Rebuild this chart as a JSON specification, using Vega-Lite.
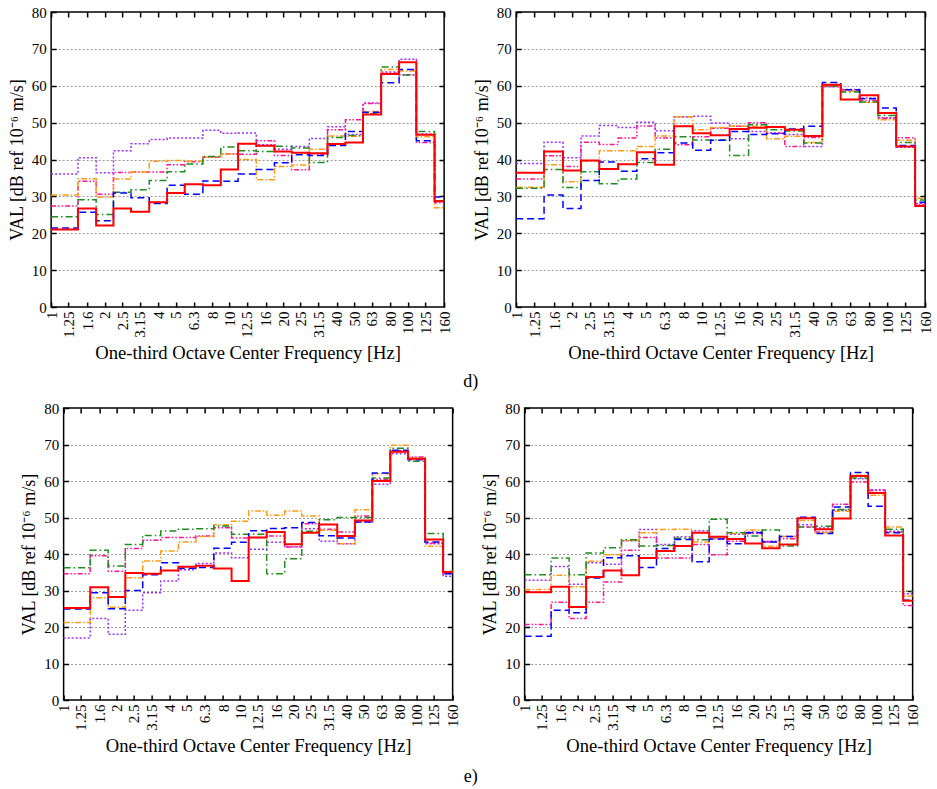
{
"$schema": "https://vega.github.io/schema/vega-lite/v6.json",
"background": "white",
"padding": {"left": 7, "top": 4, "right": 5, "bottom": 5},
"config": {
  "view": {"stroke": "black", "strokeWidth": 1.5},
  "font": "Liberation Serif",
  "title": {"font": "Liberation Serif", "fontSize": 18, "fontWeight": "normal", "color": "black"}
},
"datasets": {
 "vals": [
  {"p":"a","f":1,"s1":36.1,"s2":27.4,"s3":30.4,"s4":24.5,"s5":21.4,"s6":21.0},
  {"p":"a","f":1.25,"s1":36.1,"s2":27.4,"s3":30.4,"s4":24.5,"s5":21.4,"s6":21.0},
  {"p":"a","f":1.6,"s1":40.5,"s2":34.1,"s3":34.8,"s4":29.1,"s5":25.7,"s6":26.7},
  {"p":"a","f":2,"s1":36.4,"s2":30.6,"s3":29.8,"s4":25.1,"s5":23.4,"s6":22.1},
  {"p":"a","f":2.5,"s1":42.4,"s2":36.5,"s3":34.7,"s4":31.1,"s5":30.9,"s6":26.7},
  {"p":"a","f":3.15,"s1":44.3,"s2":36.6,"s3":36.6,"s4":31.8,"s5":29.6,"s6":25.8},
  {"p":"a","f":4,"s1":45.4,"s2":36.6,"s3":39.5,"s4":34.3,"s5":28.1,"s6":28.4},
  {"p":"a","f":5,"s1":45.8,"s2":38.6,"s3":39.7,"s4":36.7,"s5":33.0,"s6":30.9},
  {"p":"a","f":6.3,"s1":45.8,"s2":39.4,"s3":39.6,"s4":38.8,"s5":30.6,"s6":33.3},
  {"p":"a","f":8,"s1":47.9,"s2":40.6,"s3":40.7,"s4":40.8,"s5":34.2,"s6":33.0},
  {"p":"a","f":10,"s1":47.1,"s2":41.5,"s3":41.5,"s4":43.4,"s5":34.1,"s6":37.3},
  {"p":"a","f":12.5,"s1":47.2,"s2":41.4,"s3":40.0,"s4":42.4,"s5":36.1,"s6":44.3},
  {"p":"a","f":16,"s1":44.0,"s2":45.1,"s3":34.5,"s4":42.2,"s5":37.3,"s6":43.7},
  {"p":"a","f":20,"s1":42.8,"s2":41.1,"s3":38.1,"s4":43.6,"s5":39.1,"s6":42.2},
  {"p":"a","f":25,"s1":43.5,"s2":37.2,"s3":38.5,"s4":43.1,"s5":41.3,"s6":41.8},
  {"p":"a","f":31.5,"s1":45.7,"s2":41.5,"s3":42.8,"s4":39.2,"s5":41.1,"s6":41.7},
  {"p":"a","f":40,"s1":48.9,"s2":48.1,"s3":46.4,"s4":46.0,"s5":43.8,"s6":44.2},
  {"p":"a","f":50,"s1":46.8,"s2":50.8,"s3":46.3,"s4":46.5,"s5":47.6,"s6":44.6},
  {"p":"a","f":63,"s1":55.3,"s2":55.2,"s3":53.0,"s4":52.4,"s5":52.8,"s6":52.2},
  {"p":"a","f":80,"s1":63.7,"s2":63.4,"s3":64.4,"s4":65.1,"s5":60.8,"s6":63.2},
  {"p":"a","f":100,"s1":67.2,"s2":63.0,"s3":64.0,"s4":62.9,"s5":64.4,"s6":66.4},
  {"p":"a","f":125,"s1":46.9,"s2":44.6,"s3":46.2,"s4":47.6,"s5":45.1,"s6":46.7},
  {"p":"a","f":160,"s1":28.8,"s2":28.3,"s3":26.9,"s4":28.8,"s5":29.8,"s6":28.7},

  {"p":"b","f":1,"s1":38.9,"s2":34.7,"s3":32.5,"s4":32.2,"s5":23.9,"s6":36.4},
  {"p":"b","f":1.25,"s1":38.9,"s2":34.7,"s3":32.5,"s4":32.2,"s5":23.9,"s6":36.4},
  {"p":"b","f":1.6,"s1":44.7,"s2":41.0,"s3":38.6,"s4":37.3,"s5":30.4,"s6":42.2},
  {"p":"b","f":2,"s1":40.5,"s2":38.1,"s3":34.0,"s4":32.4,"s5":26.7,"s6":37.0},
  {"p":"b","f":2.5,"s1":46.4,"s2":44.7,"s3":39.6,"s4":36.7,"s5":34.3,"s6":39.7},
  {"p":"b","f":3.15,"s1":49.2,"s2":44.1,"s3":42.4,"s4":33.4,"s5":39.3,"s6":37.4},
  {"p":"b","f":4,"s1":48.7,"s2":45.8,"s3":42.4,"s4":34.7,"s5":36.8,"s6":38.7},
  {"p":"b","f":5,"s1":50.1,"s2":49.1,"s3":43.5,"s4":39.2,"s5":40.2,"s6":42.0},
  {"p":"b","f":6.3,"s1":47.8,"s2":45.8,"s3":46.4,"s4":42.8,"s5":41.8,"s6":38.6},
  {"p":"b","f":8,"s1":51.5,"s2":44.0,"s3":51.6,"s4":46.2,"s5":44.5,"s6":49.0},
  {"p":"b","f":10,"s1":51.7,"s2":46.2,"s3":48.1,"s4":45.3,"s5":42.5,"s6":47.1},
  {"p":"b","f":12.5,"s1":49.9,"s2":48.5,"s3":48.7,"s4":45.3,"s5":45.2,"s6":46.6},
  {"p":"b","f":16,"s1":45.6,"s2":49.0,"s3":49.0,"s4":41.1,"s5":47.6,"s6":48.3},
  {"p":"b","f":20,"s1":47.6,"s2":50.0,"s3":49.0,"s4":49.4,"s5":46.8,"s6":48.6},
  {"p":"b","f":25,"s1":47.2,"s2":47.1,"s3":45.6,"s4":48.1,"s5":47.0,"s6":48.8},
  {"p":"b","f":31.5,"s1":46.8,"s2":43.5,"s3":46.3,"s4":47.7,"s5":48.3,"s6":48.1},
  {"p":"b","f":40,"s1":43.5,"s2":46.0,"s3":44.6,"s4":44.5,"s5":49.0,"s6":46.4},
  {"p":"b","f":50,"s1":59.7,"s2":59.8,"s3":60.1,"s4":59.9,"s5":60.9,"s6":60.3},
  {"p":"b","f":63,"s1":59.0,"s2":58.8,"s3":58.5,"s4":58.3,"s5":58.9,"s6":56.3},
  {"p":"b","f":80,"s1":56.7,"s2":56.0,"s3":55.5,"s4":55.6,"s5":56.5,"s6":57.4},
  {"p":"b","f":100,"s1":51.3,"s2":51.2,"s3":50.8,"s4":51.9,"s5":54.0,"s6":52.6},
  {"p":"b","f":125,"s1":43.3,"s2":45.9,"s3":45.2,"s4":44.6,"s5":43.8,"s6":43.5},
  {"p":"b","f":160,"s1":28.1,"s2":27.8,"s3":29.5,"s4":29.0,"s5":28.4,"s6":27.4},

  {"p":"c","f":1,"s1":17.0,"s2":34.6,"s3":21.2,"s4":36.2,"s5":24.9,"s6":25.2},
  {"p":"c","f":1.25,"s1":17.0,"s2":34.6,"s3":21.2,"s4":36.2,"s5":24.9,"s6":25.2},
  {"p":"c","f":1.6,"s1":22.3,"s2":39.5,"s3":28.0,"s4":41.0,"s5":29.4,"s6":30.9},
  {"p":"c","f":2,"s1":18.0,"s2":35.3,"s3":25.4,"s4":36.7,"s5":25.0,"s6":28.2},
  {"p":"c","f":2.5,"s1":24.6,"s2":41.5,"s3":33.5,"s4":42.6,"s5":30.0,"s6":34.8},
  {"p":"c","f":3.15,"s1":29.4,"s2":43.8,"s3":38.1,"s4":45.1,"s5":34.3,"s6":34.6},
  {"p":"c","f":4,"s1":32.6,"s2":44.5,"s3":40.8,"s4":46.3,"s5":37.6,"s6":35.5},
  {"p":"c","f":5,"s1":35.7,"s2":44.5,"s3":43.3,"s4":46.8,"s5":36.1,"s6":36.5},
  {"p":"c","f":6.3,"s1":37.4,"s2":44.9,"s3":44.8,"s4":46.9,"s5":36.3,"s6":36.8},
  {"p":"c","f":8,"s1":40.3,"s2":47.2,"s3":48.0,"s4":47.7,"s5":41.6,"s6":36.0},
  {"p":"c","f":10,"s1":39.0,"s2":44.4,"s3":49.0,"s4":45.4,"s5":43.2,"s6":32.6},
  {"p":"c","f":12.5,"s1":41.3,"s2":44.5,"s3":51.8,"s4":45.4,"s5":46.4,"s6":44.5},
  {"p":"c","f":16,"s1":43.2,"s2":44.9,"s3":50.6,"s4":34.6,"s5":47.0,"s6":46.0},
  {"p":"c","f":20,"s1":42.0,"s2":41.9,"s3":51.8,"s4":38.7,"s5":47.2,"s6":42.7},
  {"p":"c","f":25,"s1":46.9,"s2":48.3,"s3":50.4,"s4":46.2,"s5":48.6,"s6":45.8},
  {"p":"c","f":31.5,"s1":43.5,"s2":46.8,"s3":46.5,"s4":49.4,"s5":45.0,"s6":48.1},
  {"p":"c","f":40,"s1":42.8,"s2":46.0,"s3":42.8,"s4":50.0,"s5":44.4,"s6":44.9},
  {"p":"c","f":50,"s1":48.8,"s2":50.4,"s3":52.1,"s4":50.0,"s5":48.8,"s6":49.2},
  {"p":"c","f":63,"s1":59.1,"s2":60.5,"s3":62.0,"s4":60.8,"s5":62.2,"s6":60.0},
  {"p":"c","f":80,"s1":67.5,"s2":68.3,"s3":69.8,"s4":69.0,"s5":68.4,"s6":68.0},
  {"p":"c","f":100,"s1":66.1,"s2":66.6,"s3":66.3,"s4":65.4,"s5":65.8,"s6":66.1},
  {"p":"c","f":125,"s1":42.8,"s2":43.0,"s3":42.1,"s4":45.6,"s5":43.3,"s6":44.0},
  {"p":"c","f":160,"s1":33.9,"s2":34.6,"s3":35.3,"s4":34.9,"s5":34.6,"s6":35.1},

  {"p":"d","f":1,"s1":32.8,"s2":20.7,"s3":30.3,"s4":34.3,"s5":17.5,"s6":29.5},
  {"p":"d","f":1.25,"s1":32.8,"s2":20.7,"s3":30.3,"s4":34.3,"s5":17.5,"s6":29.5},
  {"p":"d","f":1.6,"s1":36.6,"s2":26.8,"s3":34.2,"s4":38.9,"s5":24.6,"s6":31.0},
  {"p":"d","f":2,"s1":31.7,"s2":22.3,"s3":31.0,"s4":34.3,"s5":23.9,"s6":25.5},
  {"p":"d","f":2.5,"s1":37.6,"s2":26.8,"s3":38.0,"s4":40.3,"s5":33.4,"s6":33.7},
  {"p":"d","f":3.15,"s1":37.2,"s2":32.3,"s3":39.8,"s4":41.7,"s5":39.0,"s6":35.5},
  {"p":"d","f":4,"s1":43.6,"s2":41.0,"s3":43.7,"s4":43.9,"s5":39.5,"s6":34.2},
  {"p":"d","f":5,"s1":46.7,"s2":44.5,"s3":45.8,"s4":42.2,"s5":36.3,"s6":38.9},
  {"p":"d","f":6.3,"s1":42.6,"s2":38.9,"s3":46.7,"s4":42.3,"s5":41.5,"s6":40.8},
  {"p":"d","f":8,"s1":44.7,"s2":38.9,"s3":46.8,"s4":44.3,"s5":44.0,"s6":42.2},
  {"p":"d","f":10,"s1":46.4,"s2":42.6,"s3":43.3,"s4":43.9,"s5":37.9,"s6":45.8},
  {"p":"d","f":12.5,"s1":44.2,"s2":39.8,"s3":44.4,"s4":49.5,"s5":44.1,"s6":44.7},
  {"p":"d","f":16,"s1":45.4,"s2":43.5,"s3":45.6,"s4":45.8,"s5":42.8,"s6":44.1},
  {"p":"d","f":20,"s1":46.0,"s2":45.6,"s3":46.6,"s4":44.9,"s5":45.8,"s6":42.9},
  {"p":"d","f":25,"s1":43.5,"s2":43.3,"s3":42.1,"s4":46.6,"s5":43.3,"s6":41.6},
  {"p":"d","f":31.5,"s1":44.8,"s2":44.2,"s3":44.8,"s4":42.2,"s5":44.8,"s6":42.6},
  {"p":"d","f":40,"s1":48.0,"s2":47.4,"s3":49.2,"s4":47.4,"s5":50.1,"s6":49.8},
  {"p":"d","f":50,"s1":47.1,"s2":46.0,"s3":45.8,"s4":47.6,"s5":45.6,"s6":46.8},
  {"p":"d","f":63,"s1":52.0,"s2":53.6,"s3":51.7,"s4":52.2,"s5":52.9,"s6":49.7},
  {"p":"d","f":80,"s1":60.6,"s2":59.7,"s3":61.6,"s4":60.8,"s5":62.3,"s6":61.4},
  {"p":"d","f":100,"s1":57.6,"s2":57.4,"s3":56.1,"s4":56.7,"s5":53.1,"s6":56.7},
  {"p":"d","f":125,"s1":46.2,"s2":46.0,"s3":47.4,"s4":46.8,"s5":45.8,"s6":45.1},
  {"p":"d","f":160,"s1":29.1,"s2":25.9,"s3":28.5,"s4":29.8,"s5":27.3,"s6":27.2}
 ]
},
"data": {"name": "vals"},
"transform": [{"fold": ["s1","s2","s3","s4","s5","s6"], "as": ["s","v"]}],
"vconcat": [
 {
  "hconcat": [
   {
    "width": 393, "height": 295,
    "transform": [{"filter": "datum.p === 'a'"}],
    "layer": [
     {"mark": {"type": "point", "opacity": 0},
      "encoding": {
       "x": {"field": "f", "type": "quantitative", "scale": {"type": "log", "domain": [1, 160], "nice": false},
             "axis": {"orient": "bottom", "values": [1,1.25,1.6,2,2.5,3.15,4,5,6.3,8,10,12.5,16,20,25,31.5,40,50,63,80,100,125,160], "format": "~g", "labelAngle": 270, "labelFont": "Liberation Serif", "labelFontSize": 15, "labelColor": "black", "labelOverlap": false, "labelFlush": false, "labelBound": false, "tickSize": -5, "tickColor": "black", "tickWidth": 1.5, "labelPadding": 9, "domain": false, "grid": false, "title": "One-third Octave Center Frequency [Hz]", "titleFont": "Liberation Serif", "titleFontSize": 18.6, "titleFontWeight": "normal", "titleColor": "black", "titlePadding": 6}},
       "y": {"field": "v", "type": "quantitative", "scale": {"domain": [0, 80], "nice": false},
             "axis": {"orient": "left", "values": [0,10,20,30,40,50,60,70,80], "labelFont": "Liberation Serif", "labelFontSize": 15, "labelColor": "black", "tickSize": -5, "tickColor": "black", "tickWidth": 1.5, "labelPadding": 10, "domain": false, "grid": false, "title": "VAL [dB ref 10⁻⁶ m/s]", "titleFont": "Liberation Serif", "titleFontSize": 18, "titleFontWeight": "normal", "titleColor": "black", "titlePadding": 5}}
      }},
     {"mark": {"type": "point", "opacity": 0},
      "encoding": {
       "x": {"field": "f", "type": "quantitative", "axis": {"orient": "top", "values": [1,1.25,1.6,2,2.5,3.15,4,5,6.3,8,10,12.5,16,20,25,31.5,40,50,63,80,100,125,160], "labels": false, "tickSize": -5, "tickColor": "black", "tickWidth": 1.5, "domain": false, "grid": false, "title": null}},
       "y": {"field": "v", "type": "quantitative", "axis": {"orient": "right", "values": [10,20,30,40,50,60,70], "labels": false, "tickSize": -5, "tickColor": "black", "tickWidth": 1.5, "domain": false, "grid": true, "gridColor": "#9a9a9a", "gridDash": [2, 2], "gridWidth": 1, "title": null}}
      }},
     {"transform": [{"filter": "datum.s !== 's6'"}],
      "mark": {"type": "line", "interpolate": "step", "strokeWidth": 1.5},
      "encoding": {
       "x": {"field": "f", "type": "quantitative", "axis": null},
       "y": {"field": "v", "type": "quantitative", "axis": null},
       "color": {"field": "s", "type": "nominal", "scale": {"domain": ["s1","s2","s3","s4","s5","s6"], "range": ["#9b30ff","#ff1493","#ff9a1a","#1e8c1e","#0000ff","#ff0000"]}, "legend": null},
       "strokeDash": {"field": "s", "type": "nominal", "scale": {"domain": ["s1","s2","s3","s4","s5","s6"], "range": [[2,2],[5,2,1.5,2,1.5,2],[6,2,1.5,2],[7,3,1.5,3],[7,4],[1,0]]}, "legend": null}
      }},
     {"transform": [{"filter": "datum.s === 's6'"}],
      "mark": {"type": "line", "interpolate": "step", "strokeWidth": 2, "color": "#ff0000"},
      "encoding": {
       "x": {"field": "f", "type": "quantitative", "axis": null},
       "y": {"field": "v", "type": "quantitative", "axis": null}
      }}
    ],
    "resolve": {"axis": {"x": "independent", "y": "independent"}}
   },
   {
    "width": 409, "height": 295,
    "transform": [{"filter": "datum.p === 'b'"}],
    "layer": [
     {"mark": {"type": "point", "opacity": 0},
      "encoding": {
       "x": {"field": "f", "type": "quantitative", "scale": {"type": "log", "domain": [1, 160], "nice": false},
             "axis": {"orient": "bottom", "values": [1,1.25,1.6,2,2.5,3.15,4,5,6.3,8,10,12.5,16,20,25,31.5,40,50,63,80,100,125,160], "format": "~g", "labelAngle": 270, "labelFont": "Liberation Serif", "labelFontSize": 15, "labelColor": "black", "labelOverlap": false, "labelFlush": false, "labelBound": false, "tickSize": -5, "tickColor": "black", "tickWidth": 1.5, "labelPadding": 9, "domain": false, "grid": false, "title": "One-third Octave Center Frequency [Hz]", "titleFont": "Liberation Serif", "titleFontSize": 18.6, "titleFontWeight": "normal", "titleColor": "black", "titlePadding": 6}},
       "y": {"field": "v", "type": "quantitative", "scale": {"domain": [0, 80], "nice": false},
             "axis": {"orient": "left", "values": [0,10,20,30,40,50,60,70,80], "labelFont": "Liberation Serif", "labelFontSize": 15, "labelColor": "black", "tickSize": -5, "tickColor": "black", "tickWidth": 1.5, "labelPadding": 10, "domain": false, "grid": false, "title": "VAL [dB ref 10⁻⁶ m/s]", "titleFont": "Liberation Serif", "titleFontSize": 18, "titleFontWeight": "normal", "titleColor": "black", "titlePadding": 5}}
      }},
     {"mark": {"type": "point", "opacity": 0},
      "encoding": {
       "x": {"field": "f", "type": "quantitative", "axis": {"orient": "top", "values": [1,1.25,1.6,2,2.5,3.15,4,5,6.3,8,10,12.5,16,20,25,31.5,40,50,63,80,100,125,160], "labels": false, "tickSize": -5, "tickColor": "black", "tickWidth": 1.5, "domain": false, "grid": false, "title": null}},
       "y": {"field": "v", "type": "quantitative", "axis": {"orient": "right", "values": [10,20,30,40,50,60,70], "labels": false, "tickSize": -5, "tickColor": "black", "tickWidth": 1.5, "domain": false, "grid": true, "gridColor": "#9a9a9a", "gridDash": [2, 2], "gridWidth": 1, "title": null}}
      }},
     {"transform": [{"filter": "datum.s !== 's6'"}],
      "mark": {"type": "line", "interpolate": "step", "strokeWidth": 1.5},
      "encoding": {
       "x": {"field": "f", "type": "quantitative", "axis": null},
       "y": {"field": "v", "type": "quantitative", "axis": null},
       "color": {"field": "s", "type": "nominal", "scale": {"domain": ["s1","s2","s3","s4","s5","s6"], "range": ["#9b30ff","#ff1493","#ff9a1a","#1e8c1e","#0000ff","#ff0000"]}, "legend": null},
       "strokeDash": {"field": "s", "type": "nominal", "scale": {"domain": ["s1","s2","s3","s4","s5","s6"], "range": [[2,2],[5,2,1.5,2,1.5,2],[6,2,1.5,2],[7,3,1.5,3],[7,4],[1,0]]}, "legend": null}
      }},
     {"transform": [{"filter": "datum.s === 's6'"}],
      "mark": {"type": "line", "interpolate": "step", "strokeWidth": 2, "color": "#ff0000"},
      "encoding": {
       "x": {"field": "f", "type": "quantitative", "axis": null},
       "y": {"field": "v", "type": "quantitative", "axis": null}
      }}
    ],
    "resolve": {"axis": {"x": "independent", "y": "independent"}}
   }
  ],
  "spacing": 19,
  "title": {"text": "d)", "orient": "bottom", "anchor": "middle", "offset": 10}
 },
 {
  "hconcat": [
   {
    "width": 389, "height": 292,
    "transform": [{"filter": "datum.p === 'c'"}],
    "layer": [
     {"mark": {"type": "point", "opacity": 0},
      "encoding": {
       "x": {"field": "f", "type": "quantitative", "scale": {"type": "log", "domain": [1, 160], "nice": false},
             "axis": {"orient": "bottom", "values": [1,1.25,1.6,2,2.5,3.15,4,5,6.3,8,10,12.5,16,20,25,31.5,40,50,63,80,100,125,160], "format": "~g", "labelAngle": 270, "labelFont": "Liberation Serif", "labelFontSize": 15, "labelColor": "black", "labelOverlap": false, "labelFlush": false, "labelBound": false, "tickSize": -5, "tickColor": "black", "tickWidth": 1.5, "labelPadding": 9, "domain": false, "grid": false, "title": "One-third Octave Center Frequency [Hz]", "titleFont": "Liberation Serif", "titleFontSize": 18.6, "titleFontWeight": "normal", "titleColor": "black", "titlePadding": 6}},
       "y": {"field": "v", "type": "quantitative", "scale": {"domain": [0, 80], "nice": false},
             "axis": {"orient": "left", "values": [0,10,20,30,40,50,60,70,80], "labelFont": "Liberation Serif", "labelFontSize": 15, "labelColor": "black", "tickSize": -5, "tickColor": "black", "tickWidth": 1.5, "labelPadding": 10, "domain": false, "grid": false, "title": "VAL [dB ref 10⁻⁶ m/s]", "titleFont": "Liberation Serif", "titleFontSize": 18, "titleFontWeight": "normal", "titleColor": "black", "titlePadding": 5}}
      }},
     {"mark": {"type": "point", "opacity": 0},
      "encoding": {
       "x": {"field": "f", "type": "quantitative", "axis": {"orient": "top", "values": [1,1.25,1.6,2,2.5,3.15,4,5,6.3,8,10,12.5,16,20,25,31.5,40,50,63,80,100,125,160], "labels": false, "tickSize": -5, "tickColor": "black", "tickWidth": 1.5, "domain": false, "grid": false, "title": null}},
       "y": {"field": "v", "type": "quantitative", "axis": {"orient": "right", "values": [10,20,30,40,50,60,70], "labels": false, "tickSize": -5, "tickColor": "black", "tickWidth": 1.5, "domain": false, "grid": true, "gridColor": "#9a9a9a", "gridDash": [2, 2], "gridWidth": 1, "title": null}}
      }},
     {"transform": [{"filter": "datum.s !== 's6'"}],
      "mark": {"type": "line", "interpolate": "step", "strokeWidth": 1.5},
      "encoding": {
       "x": {"field": "f", "type": "quantitative", "axis": null},
       "y": {"field": "v", "type": "quantitative", "axis": null},
       "color": {"field": "s", "type": "nominal", "scale": {"domain": ["s1","s2","s3","s4","s5","s6"], "range": ["#9b30ff","#ff1493","#ff9a1a","#1e8c1e","#0000ff","#ff0000"]}, "legend": null},
       "strokeDash": {"field": "s", "type": "nominal", "scale": {"domain": ["s1","s2","s3","s4","s5","s6"], "range": [[2,2],[5,2,1.5,2,1.5,2],[6,2,1.5,2],[7,3,1.5,3],[7,4],[1,0]]}, "legend": null}
      }},
     {"transform": [{"filter": "datum.s === 's6'"}],
      "mark": {"type": "line", "interpolate": "step", "strokeWidth": 2, "color": "#ff0000"},
      "encoding": {
       "x": {"field": "f", "type": "quantitative", "axis": null},
       "y": {"field": "v", "type": "quantitative", "axis": null}
      }}
    ],
    "resolve": {"axis": {"x": "independent", "y": "independent"}}
   },
   {
    "width": 388, "height": 292,
    "transform": [{"filter": "datum.p === 'd'"}],
    "layer": [
     {"mark": {"type": "point", "opacity": 0},
      "encoding": {
       "x": {"field": "f", "type": "quantitative", "scale": {"type": "log", "domain": [1, 160], "nice": false},
             "axis": {"orient": "bottom", "values": [1,1.25,1.6,2,2.5,3.15,4,5,6.3,8,10,12.5,16,20,25,31.5,40,50,63,80,100,125,160], "format": "~g", "labelAngle": 270, "labelFont": "Liberation Serif", "labelFontSize": 15, "labelColor": "black", "labelOverlap": false, "labelFlush": false, "labelBound": false, "tickSize": -5, "tickColor": "black", "tickWidth": 1.5, "labelPadding": 9, "domain": false, "grid": false, "title": "One-third Octave Center Frequency [Hz]", "titleFont": "Liberation Serif", "titleFontSize": 18.6, "titleFontWeight": "normal", "titleColor": "black", "titlePadding": 6}},
       "y": {"field": "v", "type": "quantitative", "scale": {"domain": [0, 80], "nice": false},
             "axis": {"orient": "left", "values": [0,10,20,30,40,50,60,70,80], "labelFont": "Liberation Serif", "labelFontSize": 15, "labelColor": "black", "tickSize": -5, "tickColor": "black", "tickWidth": 1.5, "labelPadding": 10, "domain": false, "grid": false, "title": "VAL [dB ref 10⁻⁶ m/s]", "titleFont": "Liberation Serif", "titleFontSize": 18, "titleFontWeight": "normal", "titleColor": "black", "titlePadding": 5}}
      }},
     {"mark": {"type": "point", "opacity": 0},
      "encoding": {
       "x": {"field": "f", "type": "quantitative", "axis": {"orient": "top", "values": [1,1.25,1.6,2,2.5,3.15,4,5,6.3,8,10,12.5,16,20,25,31.5,40,50,63,80,100,125,160], "labels": false, "tickSize": -5, "tickColor": "black", "tickWidth": 1.5, "domain": false, "grid": false, "title": null}},
       "y": {"field": "v", "type": "quantitative", "axis": {"orient": "right", "values": [10,20,30,40,50,60,70], "labels": false, "tickSize": -5, "tickColor": "black", "tickWidth": 1.5, "domain": false, "grid": true, "gridColor": "#9a9a9a", "gridDash": [2, 2], "gridWidth": 1, "title": null}}
      }},
     {"transform": [{"filter": "datum.s !== 's6'"}],
      "mark": {"type": "line", "interpolate": "step", "strokeWidth": 1.5},
      "encoding": {
       "x": {"field": "f", "type": "quantitative", "axis": null},
       "y": {"field": "v", "type": "quantitative", "axis": null},
       "color": {"field": "s", "type": "nominal", "scale": {"domain": ["s1","s2","s3","s4","s5","s6"], "range": ["#9b30ff","#ff1493","#ff9a1a","#1e8c1e","#0000ff","#ff0000"]}, "legend": null},
       "strokeDash": {"field": "s", "type": "nominal", "scale": {"domain": ["s1","s2","s3","s4","s5","s6"], "range": [[2,2],[5,2,1.5,2,1.5,2],[6,2,1.5,2],[7,3,1.5,3],[7,4],[1,0]]}, "legend": null}
      }},
     {"transform": [{"filter": "datum.s === 's6'"}],
      "mark": {"type": "line", "interpolate": "step", "strokeWidth": 2, "color": "#ff0000"},
      "encoding": {
       "x": {"field": "f", "type": "quantitative", "axis": null},
       "y": {"field": "v", "type": "quantitative", "axis": null}
      }}
    ],
    "resolve": {"axis": {"x": "independent", "y": "independent"}}
   }
  ],
  "spacing": 19,
  "title": {"text": "e)", "orient": "bottom", "anchor": "middle", "offset": 12}
 }
],
"spacing": 9,
"center": true
}
